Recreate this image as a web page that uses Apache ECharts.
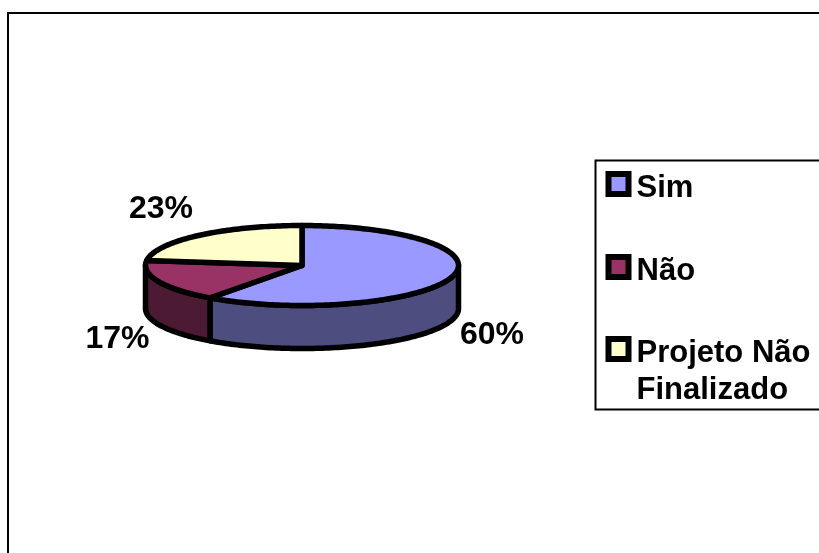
<!DOCTYPE html>
<html><head><meta charset="utf-8">
<style>html,body{margin:0;padding:0;background:#fff}#c{width:819px;height:553px}</style>
<script src="https://cdn.jsdelivr.net/npm/echarts@6/dist/echarts.min.js"></script>
</head><body><div id="c"></div>
<script>
const categories = ['Sim', 'Não', 'Projeto Não\nFinalizado'];
const percentValues = [60, 17, 23];
const topColors = ['#9999FF', '#993366', '#FFFFCC'];
const sideColors = ['#4D4D80', '#4D1A33', '#808066'];

// layout constants
const CX = 302, CY = 265.5, RX = 156.5, RY = 40, DEPTH = 43, STROKE = 5.5;
const FONT = '"Liberation Sans", Arial, sans-serif';
const labelAnchors = [[492, 335], [117.5, 339], [161, 209]];
const legendTops = [164, 247, 293.5];

const total = percentValues.reduce((a, b) => a + b, 0);
let acc = 0;
const spans = percentValues.map(v => {
  const s = acc / total * Math.PI * 2; acc += v;
  return [s, acc / total * Math.PI * 2];
});
const pt = (a, dy) => [CX + RX * Math.sin(a), CY - RY * Math.cos(a) + (dy || 0)];
function arc(a0, a1, dy) {
  const n = Math.max(2, Math.ceil((a1 - a0) / 0.02)), out = [];
  for (let i = 0; i <= n; i++) out.push(pt(a0 + (a1 - a0) * i / n, dy));
  return out;
}
const lineStyle = fill => ({ fill, stroke: '#000', lineWidth: STROKE, lineJoin: 'round' });

const series = categories.map((name, i) => ({
  type: 'custom',
  name,
  coordinateSystem: 'none',
  silent: true,
  animation: false,
  itemStyle: { color: topColors[i] },
  data: [[percentValues[i]]],
  renderItem: (params, api) => {
    const value = api.value(0);
    const [a0, a1] = spans[i];
    const children = [];
    const s0 = Math.max(a0, Math.PI / 2), s1 = Math.min(a1, Math.PI * 1.5);
    if (s1 > s0) {
      const top = arc(s0, s1, 0), bottom = arc(s0, s1, DEPTH).reverse();
      children.push({ type: 'polygon', shape: { points: top.concat(bottom) }, style: lineStyle(sideColors[i]) });
    }
    children.push({
      type: 'polygon',
      shape: { points: [[CX, CY]].concat(arc(a0, a1, 0)) },
      style: lineStyle(topColors[i])
    });
    children.push({
      type: 'text',
      style: {
        x: labelAnchors[i][0], y: labelAnchors[i][1], text: value + '%',
        font: 'bold 32px ' + FONT, fill: '#000', align: 'center', verticalAlign: 'middle'
      }
    });
    return { type: 'group', children };
  }
}));

const legendText = { fontFamily: FONT, fontWeight: 'bold', fontSize: 31, color: '#000', lineHeight: 37 };
const legends = categories.map((name, i) => ({
  data: [name],
  orient: 'vertical',
  left: 605.5,
  top: legendTops[i],
  padding: 0,
  itemWidth: 20,
  itemHeight: 20,
  selectedMode: false,
  icon: 'rect',
  itemStyle: { borderColor: '#000', borderWidth: 6 },
  formatter: n => {
    const lines = n.split('\n');
    return (lines.length > 1 ? '\n' : '') + lines.map(l => '{t|' + l + '}').join('\n');
  },
  textStyle: { ...legendText, padding: [0, 0, 0, 3], rich: { t: { ...legendText, padding: [9, 0, 0, 0] } } }
}));

const chart = echarts.init(document.getElementById('c'), null, { renderer: 'canvas' });
chart.setOption({
  animation: false,
  backgroundColor: '#fff',
  tooltip: { show: false },
  legend: legends,
  graphic: [
    { type: 'rect', z: -1, silent: true, shape: { x: 8, y: 13, width: 1000, height: 800 }, style: { fill: '#fff', stroke: '#000', lineWidth: 2 } },
    { type: 'rect', z: -1, silent: true, shape: { x: 595.5, y: 160.5, width: 400, height: 249 }, style: { fill: '#fff', stroke: '#000', lineWidth: 2 } }
  ],
  series
});
</script></body></html>
